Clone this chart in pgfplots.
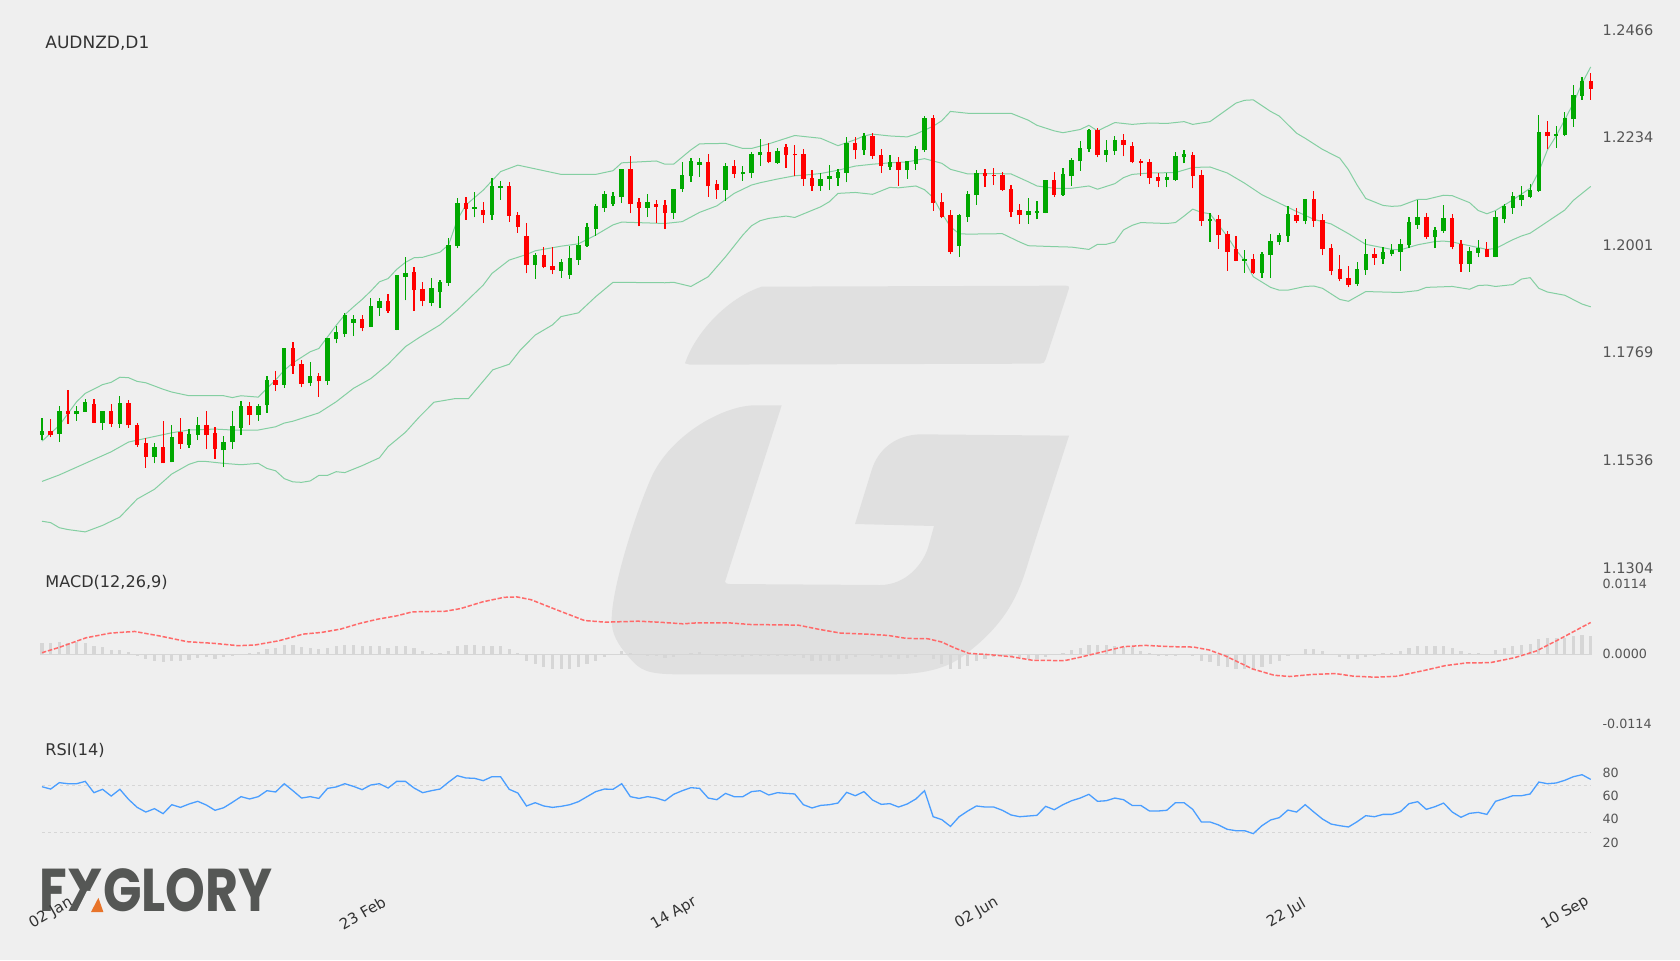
\documentclass[border=0pt]{standalone}
\usepackage{pgfplots}
\usepackage{pgfplotstable}
\usepackage{fontspec}
\pgfplotsset{compat=1.18}
\setmainfont{DejaVu Sans}
\newfontfamily\logofont{Poppins}
\definecolor{bg}{HTML}{EFEFEF}
\definecolor{wm}{HTML}{E0E0E0}
\definecolor{cgreen}{HTML}{00A800}
\definecolor{cred}{HTML}{FF0000}
\definecolor{band}{HTML}{84CFA2}
\definecolor{macdc}{HTML}{FF6A6A}
\definecolor{histc}{HTML}{D6D6D6}
\definecolor{rsic}{HTML}{4A9EFF}
\definecolor{dashc}{HTML}{D6D6D6}
\definecolor{lab}{HTML}{555555}
\definecolor{logoc}{HTML}{555755}
\definecolor{logoo}{HTML}{E8742A}

\pgfplotstableread{
i o h l c
0 1.1590 1.1625 1.1578 1.1597
2 1.1591 1.1652 1.1574 1.1642
4 1.1634 1.1651 1.1620 1.1641
5 1.1639 1.1667 1.1639 1.1661
7 1.1616 1.1641 1.1601 1.1640
9 1.1613 1.1673 1.1604 1.1659
13 1.1542 1.1573 1.1528 1.1564
15 1.1530 1.1610 1.1530 1.1584
17 1.1568 1.1602 1.1561 1.1592
18 1.1589 1.1628 1.1578 1.1610
21 1.1556 1.1586 1.1520 1.1574
22 1.1574 1.1642 1.1559 1.1608
23 1.1605 1.1662 1.1589 1.1652
25 1.1632 1.1657 1.1620 1.1652
26 1.1653 1.1716 1.1637 1.1709
28 1.1698 1.1778 1.1691 1.1778
31 1.1701 1.1746 1.1695 1.1716
33 1.1705 1.1799 1.1698 1.1799
34 1.1796 1.1825 1.1787 1.1811
35 1.1807 1.1852 1.1801 1.1849
36 1.1832 1.1849 1.1803 1.1839
38 1.1822 1.1885 1.1822 1.1867
39 1.1864 1.1885 1.1846 1.1878
41 1.1817 1.1935 1.1815 1.1934
42 1.1930 1.1974 1.1880 1.1939
45 1.1874 1.1929 1.1867 1.1906
46 1.1898 1.1925 1.1864 1.1920
47 1.1918 1.2014 1.1912 1.2000
48 1.1997 1.2100 1.1992 1.2090
50 1.2078 1.2113 1.2059 1.2082
52 1.2065 1.2144 1.2054 1.2126
53 1.2123 1.2138 1.2097 1.2128
57 1.1956 1.1982 1.1926 1.1977
60 1.1943 1.1969 1.1929 1.1962
61 1.1935 1.1997 1.1926 1.1971
62 1.1968 1.2018 1.1956 1.2000
63 1.1997 1.2046 1.1996 1.2038
64 1.2035 1.2088 1.2020 1.2083
65 1.2080 1.2116 1.2071 1.2109
66 1.2089 1.2113 1.2083 1.2105
67 1.2103 1.2164 1.2090 1.2164
70 1.2080 1.2109 1.2060 1.2092
73 1.2069 1.2121 1.2056 1.2121
74 1.2120 1.2178 1.2115 1.2150
75 1.2148 1.2187 1.2136 1.2181
76 1.2173 1.2187 1.2147 1.2179
79 1.2118 1.2177 1.2095 1.2170
81 1.2152 1.2171 1.2138 1.2157
82 1.2154 1.2200 1.2144 1.2195
83 1.2193 1.2228 1.2171 1.2200
85 1.2177 1.2208 1.2175 1.2203
90 1.2127 1.2154 1.2117 1.2142
91 1.2142 1.2172 1.2118 1.2148
92 1.2145 1.2164 1.2127 1.2157
93 1.2155 1.2232 1.2135 1.2220
95 1.2204 1.2242 1.2194 1.2235
98 1.2169 1.2193 1.2162 1.2178
100 1.2161 1.2181 1.2143 1.2181
101 1.2175 1.2214 1.2162 1.2207
102 1.2204 1.2278 1.2200 1.2274
106 1.1997 1.2066 1.1974 1.2064
107 1.2060 1.2117 1.2050 1.2110
108 1.2107 1.2161 1.2086 1.2155
114 1.2064 1.2101 1.2045 1.2072
115 1.2069 1.2094 1.2055 1.2074
116 1.2069 1.2140 1.2068 1.2140
118 1.2108 1.2166 1.2106 1.2153
119 1.2148 1.2188 1.2127 1.2183
120 1.2180 1.2225 1.2160 1.2209
121 1.2207 1.2251 1.2201 1.2247
123 1.2194 1.2227 1.2178 1.2205
124 1.2202 1.2236 1.2194 1.2227
130 1.2140 1.2154 1.2124 1.2146
131 1.2140 1.2200 1.2138 1.2191
132 1.2189 1.2205 1.2176 1.2195
135 1.2052 1.2068 1.2007 1.2056
139 1.1965 1.1989 1.1940 1.1969
141 1.1939 1.1984 1.1929 1.1981
142 1.1978 1.2023 1.1928 1.2008
143 1.2006 1.2026 1.2000 1.2021
144 1.2018 1.2083 1.2007 1.2066
146 1.2052 1.2098 1.2044 1.2098
152 1.1916 1.1962 1.1912 1.1948
153 1.1945 1.2012 1.1935 1.1981
155 1.1970 1.1995 1.1959 1.1985
156 1.1981 1.2002 1.1975 1.1988
157 1.1985 1.2012 1.1944 1.2001
158 1.1999 1.2060 1.1993 1.2049
159 1.2043 1.2096 1.2035 1.2060
161 1.2016 1.2038 1.1993 1.2033
162 1.2029 1.2085 1.2026 1.2057
165 1.1959 1.1996 1.1942 1.1987
166 1.1983 1.2011 1.1973 1.1992
168 1.1974 1.2073 1.1973 1.2060
169 1.2056 1.2089 1.2046 1.2083
170 1.2080 1.2113 1.2067 1.2106
171 1.2096 1.2128 1.2083 1.2108
172 1.2103 1.2131 1.2100 1.2119
173 1.2116 1.2281 1.2114 1.2244
175 1.2234 1.2256 1.2210 1.2240
176 1.2237 1.2287 1.2234 1.2273
177 1.2271 1.2345 1.2255 1.2323
178 1.2322 1.2363 1.2313 1.2354
}\greenT

\pgfplotstableread{
i o h l c
1 1.1597 1.1623 1.1584 1.1590
3 1.1641 1.1687 1.1613 1.1634
6 1.1656 1.1666 1.1615 1.1616
8 1.1641 1.1656 1.1606 1.1613
10 1.1659 1.1664 1.1605 1.1610
11 1.1610 1.1616 1.1564 1.1568
12 1.1571 1.1583 1.1518 1.1542
14 1.1564 1.1620 1.1528 1.1528
16 1.1595 1.1627 1.1559 1.1570
19 1.1610 1.1641 1.1558 1.1589
20 1.1593 1.1607 1.1538 1.1558
24 1.1651 1.1660 1.1611 1.1632
27 1.1709 1.1727 1.1685 1.1698
29 1.1778 1.1791 1.1721 1.1738
30 1.1742 1.1751 1.1692 1.1700
32 1.1716 1.1724 1.1672 1.1705
37 1.1839 1.1849 1.1813 1.1820
40 1.1878 1.1893 1.1853 1.1858
43 1.1941 1.1951 1.1857 1.1902
44 1.1905 1.1919 1.1867 1.1878
49 1.2090 1.2103 1.2054 1.2078
51 1.2076 1.2092 1.2047 1.2064
54 1.2128 1.2136 1.2050 1.2063
55 1.2065 1.2070 1.2026 1.2039
56 1.2020 1.2046 1.1938 1.1957
58 1.1977 1.1995 1.1949 1.1952
59 1.1955 1.1995 1.1936 1.1945
68 1.2164 1.2192 1.2068 1.2089
69 1.2092 1.2100 1.2040 1.2080
71 1.2087 1.2097 1.2046 1.2082
72 1.2085 1.2097 1.2034 1.2069
77 1.2178 1.2197 1.2104 1.2126
78 1.2131 1.2139 1.2099 1.2118
80 1.2171 1.2183 1.2144 1.2153
84 1.2200 1.2219 1.2176 1.2179
86 1.2212 1.2218 1.2166 1.2194
87 1.2196 1.2215 1.2148 1.2193
88 1.2196 1.2206 1.2127 1.2142
89 1.2144 1.2162 1.2117 1.2127
94 1.2219 1.2232 1.2185 1.2204
96 1.2235 1.2242 1.2186 1.2192
97 1.2194 1.2206 1.2155 1.2170
99 1.2178 1.2189 1.2127 1.2161
103 1.2274 1.2280 1.2073 1.2091
104 1.2093 1.2111 1.2057 1.2060
105 1.2065 1.2076 1.1980 1.1985
109 1.2155 1.2163 1.2125 1.2148
110 1.2151 1.2166 1.2129 1.2148
111 1.2150 1.2158 1.2116 1.2118
112 1.2120 1.2129 1.2060 1.2071
113 1.2076 1.2088 1.2045 1.2064
117 1.2140 1.2158 1.2103 1.2108
122 1.2247 1.2252 1.2189 1.2194
125 1.2227 1.2239 1.2191 1.2215
126 1.2214 1.2222 1.2176 1.2178
127 1.2180 1.2186 1.2149 1.2176
128 1.2179 1.2186 1.2131 1.2144
129 1.2146 1.2154 1.2124 1.2137
133 1.2194 1.2201 1.2122 1.2148
134 1.2150 1.2161 1.2041 1.2052
136 1.2056 1.2065 1.1991 1.2021
137 1.2024 1.2029 1.1944 1.1985
138 1.1990 1.2018 1.1964 1.1965
140 1.1969 1.1980 1.1936 1.1940
145 1.2064 1.2080 1.2047 1.2052
147 1.2098 1.2116 1.2039 1.2051
148 1.2054 1.2067 1.1977 1.1990
149 1.1993 1.2002 1.1934 1.1944
150 1.1947 1.1978 1.1921 1.1926
151 1.1929 1.1955 1.1908 1.1914
154 1.1981 1.1993 1.1957 1.1972
160 1.2060 1.2068 1.2013 1.2016
163 1.2057 1.2066 1.1990 1.1995
164 1.2001 1.2011 1.1942 1.1959
167 1.1991 1.2006 1.1973 1.1974
174 1.2244 1.2267 1.2206 1.2234
179 1.2354 1.2372 1.2313 1.2336
}\redT

\pgfplotstableread{
i v
0 1.1576
2 1.1610
4 1.1661
5 1.1679
7 1.1698
8 1.1703
9 1.1714
10 1.1713
11 1.1705
12 1.1702
14 1.1688
15 1.1682
17 1.1674
21 1.1674
22 1.1670
23 1.1674
25 1.1671
26 1.1690
27 1.1708
28 1.1729
29 1.1745
30 1.1757
31 1.1769
32 1.1776
33 1.1801
34 1.1826
35 1.1849
36 1.1866
37 1.1882
38 1.1900
39 1.1920
40 1.1927
41 1.1947
42 1.1962
43 1.1972
44 1.1973
46 1.1984
47 1.2000
48 1.2054
49 1.2086
51 1.2118
53 1.2158
55 1.2172
57 1.2164
60 1.2152
64 1.2152
66 1.2160
67 1.2177
71 1.2181
72 1.2174
73 1.2174
75 1.2205
76 1.2218
79 1.2219
81 1.2208
82 1.2208
84 1.2218
86 1.2230
87 1.2236
90 1.2230
92 1.2214
94 1.2227
95 1.2235
96 1.2239
98 1.2235
100 1.2233
101 1.2239
103 1.2256
104 1.2268
105 1.2288
107 1.2284
112 1.2284
114 1.2269
115 1.2258
117 1.2246
118 1.2242
120 1.2249
121 1.2258
122 1.2246
124 1.2264
126 1.2260
128 1.2263
130 1.2262
132 1.2266
133 1.2260
134 1.2263
135 1.2266
138 1.2306
139 1.2312
140 1.2313
142 1.2288
143 1.2278
145 1.2241
146 1.2230
148 1.2206
150 1.2187
151 1.2162
152 1.2129
153 1.2100
155 1.2085
156 1.2083
157 1.2084
159 1.2098
160 1.2098
162 1.2107
163 1.2106
165 1.2091
166 1.2074
167 1.2067
168 1.2074
170 1.2097
172 1.2122
173 1.2158
174 1.2205
175 1.2235
176 1.2270
177 1.2306
178 1.2349
179 1.2384
}\upperT

\pgfplotstableread{
i v
0 1.1489
2 1.1503
5 1.1528
8 1.1553
10 1.1574
12 1.1582
15 1.1594
17 1.1600
20 1.1602
22 1.1600
25 1.1600
27 1.1607
28 1.1615
29 1.1619
31 1.1631
32 1.1637
34 1.1661
36 1.1690
38 1.1711
40 1.1742
42 1.1780
43.7 1.1801
46 1.1827
48 1.1859
51 1.1913
52 1.1938
54 1.1967
56 1.1979
57 1.1987
60 1.1997
62 1.2002
64 1.2021
66 1.2043
67 1.2049
72 1.2046
74 1.2050
76 1.2070
78 1.2084
80 1.2111
82 1.2129
83 1.2134
85 1.2142
87 1.2149
89 1.2152
90 1.2154
92 1.2161
94 1.2170
96 1.2174
98 1.2177
100 1.2179
102 1.2186
104 1.2176
105 1.2163
107 1.2153
110 1.2154
112 1.2153
114 1.2136
115 1.2127
117 1.2122
119 1.2122
121 1.2127
122 1.2120
124 1.2132
125 1.2145
126 1.2152
128 1.2155
131 1.2156
133 1.2167
135 1.2168
137 1.2155
139 1.2133
141 1.2108
143 1.2090
145 1.2072
147 1.2055
149 1.2045
151 1.2024
153 1.2001
156 1.1990
157 1.1989
159 1.2000
161 1.2007
162 1.2008
163 1.2006
165 1.1998
167 1.1990
168 1.1992
170 1.2011
171 1.2019
172 1.2025
174 1.2050
176 1.2075
177 1.2096
178 1.2111
179 1.2126
}\middleT

\pgfplotstableread{
i v
0 1.1403
1 1.1400
2 1.1389
3 1.1385
5 1.1380
7 1.1394
9 1.1412
11 1.1451
13 1.1472
15 1.1505
17 1.1526
18 1.1532
19 1.1532
21 1.1528
23 1.1525
25 1.1528
26 1.1517
27 1.1512
28 1.1495
29 1.1488
30 1.1487
31 1.1490
32 1.1502
33 1.1502
34 1.1510
35 1.1508
37 1.1523
39 1.1540
40 1.1564
42 1.1595
43.6 1.1628
45.3 1.1660
47.8 1.1668
49.3 1.1668
52.1 1.1730
54 1.1742
55.3 1.1773
57 1.1805
59 1.1827
60 1.1845
62 1.1853
64 1.1888
66 1.1919
72 1.1918
73 1.1919
75 1.1910
77 1.1931
79 1.1974
81 1.2021
82 1.2041
83 1.2052
84 1.2057
86 1.2062
87 1.2059
90 1.2082
91 1.2093
92 1.2111
94 1.2113
96 1.2109
98 1.2124
99 1.2123
101 1.2127
102 1.2119
103 1.2102
104 1.2068
105 1.2039
106 1.2024
107 1.2023
111 1.2024
113 1.2006
114 1.1998
117 1.1996
119 1.1995
121 1.1990
122 1.2001
123 1.2001
124 1.2006
125 1.2032
126 1.2042
127 1.2048
130 1.2046
131 1.2048
132 1.2062
133 1.2077
134 1.2070
135 1.2067
137 1.2018
138 1.1989
139 1.1966
140 1.1931
142 1.1908
143 1.1902
144 1.1902
146 1.1910
147 1.1911
148 1.1906
150 1.1882
151 1.1878
153 1.1899
157 1.1897
159 1.1901
160 1.1908
163 1.1910
165 1.1904
166 1.1912
167 1.1913
168 1.1910
170 1.1914
171 1.1926
172 1.1929
173 1.1906
174 1.1898
176 1.1891
178 1.1872
179 1.1866
}\lowerT

\pgfplotstableread{
i v
0 0.00032
2 0.00119
5.1 0.00275
7.9 0.00351
10.7 0.00378
13.7 0.00302
16.8 0.00211
19.9 0.00184
22.7 0.00146
24.6 0.00157
27.4 0.00227
30.2 0.00335
32.3 0.00362
34.5 0.00416
36.7 0.00508
38.8 0.00578
41 0.00632
42.8 0.00697
46.6 0.00707
48.4 0.00751
50.9 0.00859
53.4 0.00934
54.9 0.00940
56.5 0.00896
59.6 0.00724
62.7 0.00556
65.1 0.00529
68.9 0.00545
71.3 0.00529
74.1 0.00502
75.7 0.00518
79.4 0.00518
81.9 0.00491
87.4 0.00481
89.9 0.00410
92.3 0.00351
95.3 0.00335
97.8 0.00313
99.9 0.00265
102.4 0.00259
104 0.00205
105.5 0.00108
107.1 0.00022
109.5 0
112 -0.00032
114.5 -0.00092
118.2 -0.00097
120.1 -0.00038
122.5 0.00043
125 0.00130
127.5 0.00151
130.6 0.00130
133.1 0.00124
134.9 0.00076
136.8 -0.00022
139.9 -0.00232
142.4 -0.00335
144.2 -0.00356
146.7 -0.00324
149.5 -0.00308
151.6 -0.00351
154.1 -0.00367
156.6 -0.00351
159.7 -0.00259
162.2 -0.00178
164.6 -0.00135
167.4 -0.00130
170.2 -0.00049
172.7 0.00059
175.2 0.00238
177.7 0.00427
179 0.00524
}\signalT

\pgfplotstableread{
i v
0 0.00184
1 0.00184
2 0.00200
3 0.00194
4 0.00200
5 0.00184
6 0.00146
7 0.00119
8 0.00081
9 0.00081
10 0.00038
11 -0.00022
12 -0.00070
13 -0.00097
14 -0.00119
15 -0.00108
16 -0.00097
17 -0.00086
18 -0.00059
19 -0.00043
20 -0.00065
21 -0.00043
22 -0.00016
23 0.00005
24 0.00032
25 0.00049
26 0.00097
27 0.00113
28 0.00157
29 0.00157
30 0.00119
31 0.00108
32 0.00086
33 0.00113
34 0.00140
35 0.00162
36 0.00162
37 0.00135
38 0.00135
39 0.00135
40 0.00108
41 0.00135
42 0.00135
43 0.00108
44 0.00054
45 0.00027
46 0.00027
47 0.00054
48 0.00135
49 0.00162
50 0.00162
51 0.00135
52 0.00146
53 0.00135
54 0.00086
55 0.00022
56 -0.00097
57 -0.00151
58 -0.00205
59 -0.00238
60 -0.00238
61 -0.00227
62 -0.00200
63 -0.00146
64 -0.00097
65 -0.00032
66 0
67 0.00054
68 0.00027
69 0.00016
70 -0.00011
71 -0.00027
72 -0.00059
73 -0.00032
74 0
75 0.00022
76 0.00038
77 0.00011
78 -0.00027
79 -0.00016
80 -0.00016
81 -0.00032
82 -0.00005
83 -0.00005
84 -0.00005
85 -0.00005
86 -0.00005
87 -0.00011
88 -0.00059
89 -0.00097
90 -0.00108
91 -0.00108
92 -0.00108
93 -0.00065
94 -0.00032
95 0
96 -0.00011
97 -0.00049
98 -0.00043
99 -0.00070
100 -0.00059
101 -0.00043
102 0
103 -0.00070
104 -0.00151
105 -0.00227
106 -0.00227
107 -0.00178
108 -0.00108
109 -0.00070
110 -0.00032
111 -0.00016
112 -0.00016
113 -0.00043
114 -0.00070
115 -0.00070
116 -0.00032
117 0
118 0.00032
119 0.00076
120 0.00113
121 0.00151
122 0.00151
123 0.00151
124 0.00146
125 0.00119
126 0.00119
127 0.00054
128 0.00027
129 -0.00016
130 -0.00027
131 -0.00011
132 0
133 -0.00016
134 -0.00097
135 -0.00124
136 -0.00178
137 -0.00205
138 -0.00232
139 -0.00238
140 -0.00238
141 -0.00205
142 -0.00146
143 -0.00097
144 -0.00027
145 0.00016
146 0.00086
147 0.00086
148 0.00054
149 0.00005
150 -0.00043
151 -0.00065
152 -0.00065
153 -0.00032
154 -0.00005
155 0.00022
156 0.00032
157 0.00065
158 0.00108
159 0.00146
160 0.00135
161 0.00135
162 0.00146
163 0.00108
164 0.00054
165 0.00032
166 0.00022
167 0.00005
168 0.00070
169 0.00108
170 0.00146
171 0.00162
172 0.00173
173 0.00248
174 0.00270
175 0.00270
176 0.00270
177 0.00297
178 0.00324
179 0.00297
}\histT

\pgfplotstableread{
i v
0 69.1
1 67.1
2 72.6
3 71.7
4 71.7
5 73.7
6 64.0
7 66.9
8 61.1
9 66.9
10 58.3
11 51.4
12 47.4
13 50.3
14 46.0
15 53.7
16 51.4
17 54.3
18 56.6
19 53.4
20 48.9
21 51.1
22 55.7
23 60.6
24 58.6
25 60.6
26 65.7
27 64.6
28 71.7
29 65.7
30 59.4
31 60.6
32 59.1
33 67.7
34 68.9
35 71.7
36 69.4
37 66.6
38 70.6
39 71.7
40 68.0
41 73.7
42 73.7
43 68.0
44 64.0
45 65.7
46 67.1
47 73.1
48 78.6
49 76.6
50 76.3
51 74.3
52 77.7
53 77.7
54 66.9
55 63.7
56 52.6
57 55.4
58 52.6
59 51.4
60 52.3
61 53.7
62 56.3
63 60.6
64 64.9
65 67.1
66 66.9
67 71.7
68 60.6
69 59.1
70 60.6
71 59.4
72 57.1
73 62.6
74 65.7
75 68.3
76 67.7
77 59.4
78 58.0
79 63.4
80 60.6
81 60.6
82 64.9
83 65.7
84 62.0
85 64.0
86 63.4
87 62.9
88 53.7
89 50.9
90 53.1
91 53.7
92 55.1
93 64.3
94 61.4
95 64.9
96 57.7
97 54.0
98 54.6
99 51.7
100 54.3
101 58.6
102 65.7
103 43.4
104 40.9
105 35.1
106 43.4
107 48.3
108 52.6
109 51.7
110 51.7
111 48.9
112 44.9
113 43.4
114 44.0
115 44.6
116 52.3
117 49.4
118 53.7
119 57.1
120 59.4
121 62.6
122 56.6
123 57.1
124 59.4
125 58.0
126 53.1
127 53.1
128 48.3
129 48.3
130 48.9
131 55.4
132 55.4
133 49.7
134 38.9
135 38.9
136 36.3
137 32.6
138 31.4
139 31.4
140 28.9
141 35.7
142 40.6
143 42.6
144 49.1
145 47.4
146 53.7
147 47.4
148 41.4
149 37.1
150 35.7
151 34.6
152 39.1
153 44.3
154 43.4
155 45.4
156 45.4
157 47.7
158 54.6
159 56.3
160 49.7
161 52.0
162 55.1
163 47.4
164 42.9
165 46.3
166 47.1
167 45.4
168 56.6
169 58.9
170 61.4
171 61.4
172 62.9
173 73.1
174 71.7
175 72.3
176 74.6
177 77.7
178 79.4
179 75.4
}\rsiT

\pgfplotsset{
  base/.style={
    scale only axis, width=774.35pt, xmin=0, xmax=179, clip=false,
    axis line style={draw=none}, tick style={draw=none},
    major tick length=0pt, scaled ticks=false,
    ymajorgrids=false, xmajorgrids=false,
    xtick=\empty, yticklabel pos=right,
  },
  wick/.style={draw=none, no markers, forget plot,
    error bars/.cd, y dir=plus, y explicit, error mark=none,
    error bar style={line width=0.6pt, draw=#1}},
  body/.style={draw=none, no markers, forget plot,
    error bars/.cd, y dir=plus, y explicit, error mark=none,
    error bar style={line width=2.2pt, draw=#1}},
  bandl/.style={no markers, color=band, line width=0.5pt, forget plot},
}

\begin{document}
\begin{tikzpicture}[x=1pt,y=1pt]
\useasboundingbox (0,0) rectangle (840,480);
\fill[bg] (0,0) rectangle (840,480);

% watermark
\begin{scope}[shift={(290,345)}, x=0.16667pt, y=-0.16667pt]
\fill[wm] (315,280) .. controls (345,190) and (440,85) .. (545,50)
  -- (1455,47) .. controls (1465,47) and (1469,49) .. (1467,55)
  -- (1397,268) .. controls (1394,277) and (1390,281) .. (1380,281)
  -- (330,284) -- cycle;
\fill[wm] (605,406) -- (435,935) .. controls (435,940) and (440,941) .. (450,942)
  -- (900,945) .. controls (980,945) and (1030,880) .. (1045,830)
  -- (1062,768) -- (825,762) -- (875,600)
  .. controls (895,535) and (950,495) .. (1020,493)
  -- (1467,497) -- (1350,860)
  .. controls (1320,960) and (1290,1050) .. (1160,1150)
  .. controls (1100,1200) and (1020,1213) .. (930,1213)
  -- (300,1213) .. controls (200,1213) and (180,1200) .. (150,1165)
  .. controls (110,1120) and (95,1090) .. (95,1050)
  .. controls (95,950) and (170,720) .. (215,620)
  .. controls (270,500) and (420,410) .. (520,406)
  -- cycle;
\end{scope}

% logo
\node[anchor=south west, inner sep=0pt, text=logoc] at (19.5,24)
  {\resizebox{116.5pt}{21.5pt}{\logofont\bfseries FXGLORY}};
\fill[bg] (43.5,34.6) -- (50.8,34.6) -- (50.8,23.5) -- (38,23.5) -- cycle;
\fill[logoo] (49.2,31.1) -- (51.7,24) -- (45.5,24) -- cycle;

% price panel
\begin{axis}[base, at={(21pt,196pt)}, anchor=south west, height=269.5pt,
  ymin=1.1302, ymax=1.2466,
  ytick={1.1304,1.1536,1.1769,1.2001,1.2234,1.2466},
  yticklabels={1.1304,1.1536,1.1769,1.2001,1.2234,1.2466},
  y tick label style={anchor=west, xshift=2.4pt, yshift=-0.4pt, text=lab, font=\fontsize{7.25}{8}\selectfont},
]
\addplot[bandl] table[x=i,y=v] {\upperT};
\addplot[bandl] table[x=i,y=v] {\middleT};
\addplot[bandl] table[x=i,y=v] {\lowerT};
\addplot[wick=cgreen] table[x=i,y=l,y error plus expr=\thisrow{h}-\thisrow{l}] {\greenT};
\addplot[wick=cred] table[x=i,y=l,y error plus expr=\thisrow{h}-\thisrow{l}] {\redT};
\addplot[body=cgreen] table[x=i,y=o,y error plus expr=\thisrow{c}-\thisrow{o}] {\greenT};
\addplot[body=cred] table[x=i,y=c,y error plus expr=\thisrow{o}-\thisrow{c}] {\redT};
\end{axis}

% macd panel
\begin{axis}[base, at={(21pt,117.67pt)}, anchor=south west, height=70pt,
  ymin=-0.0114, ymax=0.0114,
  ytick={-0.0114,0,0.0114},
  yticklabels={-0.0114,0.0000,0.0114},
  y tick label style={anchor=west, xshift=2.4pt, yshift=0.6pt, text=lab, font=\fontsize{6.35}{7}\selectfont},
]
\addplot[histc, line width=0.6pt, forget plot] coordinates {(0,0) (179,0)};
\addplot[ycomb, histc, line width=1.6pt, no markers, forget plot] table[x=i,y=v] {\histT};
\addplot[macdc, line width=0.75pt, dash pattern=on 2.2pt off 0.9pt, no markers, forget plot] table[x=i,y=v] {\signalT};
\end{axis}

% rsi panel
\begin{axis}[base, at={(21pt,46.33pt)}, anchor=south west, height=58.33pt,
  ymin=0, ymax=100,
  ytick={20,40,60,80},
  yticklabels={20,40,60,80},
  y tick label style={anchor=west, xshift=2.4pt, yshift=0.7pt, text=lab, font=\fontsize{6.35}{7}\selectfont},
  xtick={1,37,73,108,143.8,176},
  xticklabels={02 Jan,23 Feb,14 Apr,02 Jun,22 Jul,10 Sep},
  x tick label style={rotate=30, anchor=center, xshift=-11.34pt, yshift=-19.95pt, text=black!80, font=\fontsize{7.5}{8}\selectfont},
]
\addplot[dashc, line width=0.5pt, dash pattern=on 1.5pt off 1.5pt, forget plot] coordinates {(0,70) (179,70)};
\addplot[dashc, line width=0.5pt, dash pattern=on 1.5pt off 1.5pt, forget plot] coordinates {(0,30) (179,30)};
\addplot[rsic, line width=0.65pt, no markers, forget plot] table[x=i,y=v] {\rsiT};
\end{axis}

% panel titles
\node[anchor=west, inner sep=0pt, text=black!80, font=\fontsize{8.5}{9}\selectfont] at (22.5,458.5) {AUDNZD,D1};
\node[anchor=west, inner sep=0pt, text=black!80, font=\fontsize{8.05}{9}\selectfont] at (22.5,189) {MACD(12,26,9)};
\node[anchor=west, inner sep=0pt, text=black!80, font=\fontsize{8.05}{9}\selectfont] at (22.5,105) {RSI(14)};
\end{tikzpicture}
\end{document}
